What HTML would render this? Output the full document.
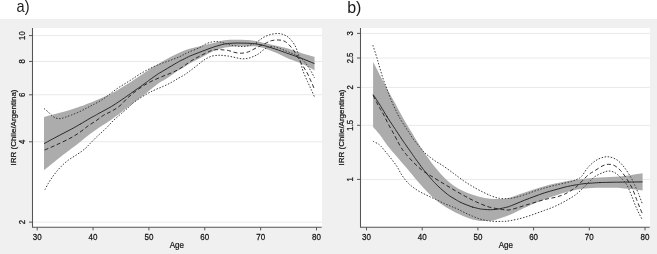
<!DOCTYPE html>
<html><head><meta charset="utf-8"><style>
html,body{margin:0;padding:0;background:#fff;overflow:hidden;}
svg{display:block;will-change:transform;}
.t{font-family:"Liberation Sans",sans-serif;font-size:8.4px;fill:#151515;stroke:#151515;stroke-width:0.22px;}
.lab{font-family:"Liberation Sans",sans-serif;font-size:16px;fill:#1a1a1a;}
</style></head><body>
<svg width="657" height="254" viewBox="0 0 657 254">
<rect x="0" y="0" width="657" height="254" fill="#fff"/>
<rect x="0" y="19" width="657" height="235" fill="#f0f0f0"/>
<rect x="32.5" y="28" width="289.5" height="199" fill="#fff"/>
<line x1="33" y1="222.13" x2="322" y2="222.13" stroke="#e9e9e9" stroke-width="1"/>
<line x1="33" y1="141.8" x2="322" y2="141.8" stroke="#e9e9e9" stroke-width="1"/>
<line x1="33" y1="94.8" x2="322" y2="94.8" stroke="#e9e9e9" stroke-width="1"/>
<line x1="33" y1="61.46" x2="322" y2="61.46" stroke="#e9e9e9" stroke-width="1"/>
<line x1="33" y1="35.6" x2="322" y2="35.6" stroke="#e9e9e9" stroke-width="1"/>
<path d="M44.00 117.00 C46.00 116.47 51.42 115.05 56.00 113.80 C60.58 112.55 67.50 110.70 71.50 109.50 C75.50 108.30 75.97 108.12 80.00 106.60 C84.03 105.08 90.45 102.60 95.70 100.40 C100.95 98.20 106.97 95.67 111.50 93.40 C116.03 91.13 119.70 88.70 122.90 86.80 C126.10 84.90 128.08 83.67 130.70 82.00 C133.32 80.33 135.38 78.97 138.60 76.80 C141.82 74.63 146.43 71.30 150.00 69.00 C153.57 66.70 156.67 64.95 160.00 63.00 C163.33 61.05 166.67 59.05 170.00 57.30 C173.33 55.55 177.00 53.85 180.00 52.50 C183.00 51.15 184.70 50.25 188.00 49.20 C191.30 48.15 195.87 47.15 199.80 46.20 C203.73 45.25 208.57 44.20 211.60 43.50 C214.63 42.80 215.77 42.53 218.00 42.00 C220.23 41.47 222.17 40.67 225.00 40.30 C227.83 39.93 231.22 39.83 235.00 39.80 C238.78 39.77 244.20 39.87 247.70 40.10 C251.20 40.33 253.25 40.72 256.00 41.20 C258.75 41.68 261.70 42.45 264.20 43.00 C266.70 43.55 268.63 43.95 271.00 44.50 C273.37 45.05 276.23 45.78 278.40 46.30 C280.57 46.82 282.07 47.12 284.00 47.60 C285.93 48.08 287.38 48.38 290.00 49.20 C292.62 50.02 296.87 51.57 299.70 52.50 C302.53 53.43 304.53 54.08 307.00 54.80 C309.47 55.52 313.25 56.47 314.50 56.80 L314.50 70.40 C313.25 69.72 309.47 67.57 307.00 66.30 C304.53 65.03 302.53 63.98 299.70 62.80 C296.87 61.62 292.62 60.23 290.00 59.20 C287.38 58.17 285.93 57.50 284.00 56.60 C282.07 55.70 280.57 54.77 278.40 53.80 C276.23 52.83 273.37 51.73 271.00 50.80 C268.63 49.87 266.62 48.92 264.20 48.20 C261.78 47.48 259.25 46.80 256.50 46.50 C253.75 46.20 251.28 46.42 247.70 46.40 C244.12 46.38 238.78 46.22 235.00 46.40 C231.22 46.58 227.83 46.98 225.00 47.50 C222.17 48.02 220.23 48.75 218.00 49.50 C215.77 50.25 214.63 50.55 211.60 52.00 C208.57 53.45 203.30 56.37 199.80 58.20 C196.30 60.03 193.18 61.53 190.60 63.00 C188.02 64.47 186.42 65.70 184.30 67.00 C182.18 68.30 180.28 69.25 177.90 70.80 C175.52 72.35 172.15 74.85 170.00 76.30 C167.85 77.75 167.02 78.25 165.00 79.50 C162.98 80.75 160.98 81.55 157.90 83.80 C154.82 86.05 151.03 89.47 146.50 93.00 C141.97 96.53 135.12 101.62 130.70 105.00 C126.28 108.38 123.20 110.88 120.00 113.30 C116.80 115.72 115.02 117.08 111.50 119.50 C107.98 121.92 102.48 125.38 98.90 127.80 C95.32 130.22 92.98 131.77 90.00 134.00 C87.02 136.23 84.08 138.77 81.00 141.20 C77.92 143.63 75.67 145.38 71.50 148.60 C67.33 151.82 60.58 156.88 56.00 160.50 C51.42 164.12 46.00 168.67 44.00 170.30 Z" fill="#acacac" stroke="none"/>
<path d="M44.00 143.65 C46.00 142.57 51.42 139.58 56.00 137.15 C60.58 134.72 67.50 131.19 71.50 129.05 C75.50 126.91 78.42 125.18 80.00 124.29 C81.58 123.40 79.33 124.70 81.00 123.70 C82.67 122.71 87.55 119.74 90.00 118.33 C92.45 116.91 94.22 116.04 95.70 115.21 C97.18 114.39 96.27 114.85 98.90 113.39 C101.53 111.93 107.98 108.53 111.50 106.45 C115.02 104.37 118.10 102.14 120.00 100.89 C121.90 99.64 121.12 100.16 122.90 98.93 C124.68 97.69 128.08 95.34 130.70 93.50 C133.32 91.66 135.97 89.78 138.60 87.90 C141.23 86.02 144.60 83.58 146.50 82.20 C148.40 80.81 148.10 80.95 150.00 79.59 C151.90 78.23 156.23 75.17 157.90 74.03 C159.57 72.89 158.82 73.46 160.00 72.76 C161.18 72.06 163.33 70.82 165.00 69.83 C166.67 68.83 167.85 68.08 170.00 66.80 C172.15 65.52 176.23 63.12 177.90 62.15 C179.57 61.19 178.93 61.58 180.00 61.03 C181.07 60.48 182.97 59.55 184.30 58.86 C185.63 58.18 186.95 57.44 188.00 56.93 C189.05 56.41 188.63 56.56 190.60 55.77 C192.57 54.98 196.30 53.54 199.80 52.20 C203.30 50.86 208.57 48.83 211.60 47.75 C214.63 46.67 215.77 46.39 218.00 45.75 C220.23 45.11 222.17 44.34 225.00 43.90 C227.83 43.46 231.22 43.21 235.00 43.10 C238.78 42.99 244.20 43.13 247.70 43.25 C251.20 43.37 254.53 43.74 256.00 43.85 C257.47 43.96 255.13 43.61 256.50 43.90 C257.87 44.20 261.78 44.98 264.20 45.60 C266.62 46.22 268.63 46.91 271.00 47.65 C273.37 48.39 276.23 49.31 278.40 50.05 C280.57 50.79 282.07 51.41 284.00 52.10 C285.93 52.79 287.38 53.28 290.00 54.20 C292.62 55.12 296.87 56.59 299.70 57.65 C302.53 58.71 304.53 59.56 307.00 60.55 C309.47 61.54 313.25 63.09 314.50 63.60" fill="none" stroke="#1a1a1a" stroke-width="0.9"/>
<path d="M44.70 150.00 C46.53 149.20 51.48 147.15 55.70 145.20 C59.92 143.25 65.95 140.47 70.00 138.30 C74.05 136.13 77.02 134.25 80.00 132.20 C82.98 130.15 85.28 127.87 87.90 126.00 C90.52 124.13 93.08 122.80 95.70 121.00 C98.32 119.20 100.97 116.82 103.60 115.20 C106.23 113.58 108.77 112.88 111.50 111.30 C114.23 109.72 117.25 108.00 120.00 105.70 C122.75 103.40 125.37 99.92 128.00 97.50 C130.63 95.08 133.30 93.12 135.80 91.20 C138.30 89.28 140.63 87.53 143.00 86.00 C145.37 84.47 147.50 83.28 150.00 82.00 C152.50 80.72 155.33 79.47 158.00 78.30 C160.67 77.13 163.33 76.08 166.00 75.00 C168.67 73.92 171.33 73.08 174.00 71.80 C176.67 70.52 179.17 69.10 182.00 67.30 C184.83 65.50 188.00 62.88 191.00 61.00 C194.00 59.12 196.57 57.75 200.00 56.00 C203.43 54.25 208.60 51.57 211.60 50.50 C214.60 49.43 216.27 49.72 218.00 49.60 C219.73 49.48 220.27 49.65 222.00 49.80 C223.73 49.95 226.23 50.05 228.40 50.50 C230.57 50.95 232.77 52.05 235.00 52.50 C237.23 52.95 239.55 53.32 241.80 53.20 C244.05 53.08 246.30 52.58 248.50 51.80 C250.70 51.02 252.38 49.80 255.00 48.50 C257.62 47.20 261.48 45.30 264.20 44.00 C266.92 42.70 268.93 41.37 271.30 40.70 C273.67 40.03 276.28 39.95 278.40 40.00 C280.52 40.05 282.28 40.25 284.00 41.00 C285.72 41.75 287.13 43.00 288.70 44.50 C290.27 46.00 291.95 48.00 293.40 50.00 C294.85 52.00 296.13 54.33 297.40 56.50 C298.67 58.67 299.87 61.08 301.00 63.00 C302.13 64.92 303.08 66.17 304.20 68.00 C305.32 69.83 306.67 72.02 307.70 74.00 C308.73 75.98 309.57 78.07 310.40 79.90 C311.23 81.73 312.02 83.40 312.70 85.00 C313.38 86.60 314.20 88.75 314.50 89.50" fill="none" stroke="#1a1a1a" stroke-width="0.9" stroke-dasharray="4 2.6"/>
<path d="M44.00 108.50 C44.67 109.05 46.67 110.60 48.00 111.80 C49.33 113.00 50.67 114.65 52.00 115.70 C53.33 116.75 54.58 117.62 56.00 118.10 C57.42 118.58 59.00 118.73 60.50 118.60 C62.00 118.47 63.17 117.90 65.00 117.30 C66.83 116.70 69.10 115.92 71.50 115.00 C73.90 114.08 76.82 112.98 79.40 111.80 C81.98 110.62 84.73 109.07 87.00 107.90 C89.27 106.73 90.72 106.02 93.00 104.80 C95.28 103.58 98.10 102.23 100.70 100.60 C103.30 98.97 105.97 96.93 108.60 95.00 C111.23 93.07 113.87 90.83 116.50 89.00 C119.13 87.17 121.82 85.62 124.40 84.00 C126.98 82.38 129.40 80.97 132.00 79.30 C134.60 77.63 137.00 75.80 140.00 74.00 C143.00 72.20 146.67 70.17 150.00 68.50 C153.33 66.83 156.67 65.33 160.00 64.00 C163.33 62.67 166.67 61.75 170.00 60.50 C173.33 59.25 177.00 57.83 180.00 56.50 C183.00 55.17 184.70 54.00 188.00 52.50 C191.30 51.00 196.85 48.92 199.80 47.50 C202.75 46.08 203.73 44.92 205.70 44.00 C207.67 43.08 209.77 42.40 211.60 42.00 C213.43 41.60 214.97 41.53 216.70 41.60 C218.43 41.67 220.17 41.97 222.00 42.40 C223.83 42.83 226.03 43.72 227.70 44.20 C229.37 44.68 230.28 44.97 232.00 45.30 C233.72 45.63 236.33 46.00 238.00 46.20 C239.67 46.40 240.67 46.50 242.00 46.50 C243.33 46.50 244.67 46.42 246.00 46.20 C247.33 45.98 248.43 45.73 250.00 45.20 C251.57 44.67 253.85 43.82 255.40 43.00 C256.95 42.18 257.83 41.30 259.30 40.30 C260.77 39.30 262.20 38.00 264.20 37.00 C266.20 36.00 268.93 34.88 271.30 34.30 C273.67 33.72 276.28 33.42 278.40 33.50 C280.52 33.58 282.40 34.22 284.00 34.80 C285.60 35.38 286.83 36.13 288.00 37.00 C289.17 37.87 289.88 38.67 291.00 40.00 C292.12 41.33 293.68 43.25 294.70 45.00 C295.72 46.75 296.32 48.42 297.10 50.50 C297.88 52.58 298.72 55.17 299.40 57.50 C300.08 59.83 300.60 62.25 301.20 64.50 C301.80 66.75 301.95 68.17 303.00 71.00 C304.05 73.83 306.13 78.42 307.50 81.50 C308.87 84.58 310.03 86.92 311.20 89.50 C312.37 92.08 313.95 95.75 314.50 97.00" fill="none" stroke="#3a3a3a" stroke-width="1" stroke-dasharray="1.5 1.6"/>
<path d="M44.90 189.70 C45.47 188.65 47.15 185.37 48.30 183.40 C49.45 181.43 50.53 179.73 51.80 177.90 C53.07 176.07 54.30 174.35 55.90 172.40 C57.50 170.45 59.33 168.23 61.40 166.20 C63.47 164.17 65.57 162.23 68.30 160.20 C71.03 158.17 74.93 155.98 77.80 154.00 C80.67 152.02 83.47 150.03 85.50 148.30 C87.53 146.57 87.93 145.70 90.00 143.60 C92.07 141.50 95.28 138.20 97.90 135.70 C100.52 133.20 103.08 131.17 105.70 128.60 C108.32 126.03 110.97 122.83 113.60 120.30 C116.23 117.77 118.87 115.68 121.50 113.40 C124.13 111.12 127.15 108.58 129.40 106.60 C131.65 104.62 131.97 103.68 135.00 101.50 C138.03 99.32 144.18 95.48 147.60 93.50 C151.02 91.52 152.88 90.78 155.50 89.60 C158.12 88.42 160.68 87.58 163.30 86.40 C165.92 85.22 168.75 83.82 171.20 82.50 C173.65 81.18 175.78 79.78 178.00 78.50 C180.22 77.22 182.53 76.05 184.50 74.80 C186.47 73.55 187.93 72.38 189.80 71.00 C191.67 69.62 193.73 68.03 195.70 66.50 C197.67 64.97 199.93 63.05 201.60 61.80 C203.27 60.55 204.03 59.93 205.70 59.00 C207.37 58.07 209.55 56.82 211.60 56.20 C213.65 55.58 216.27 55.43 218.00 55.30 C219.73 55.17 220.27 55.27 222.00 55.40 C223.73 55.53 226.22 55.75 228.40 56.10 C230.58 56.45 232.87 57.05 235.10 57.50 C237.33 57.95 239.57 58.68 241.80 58.80 C244.03 58.92 246.30 58.70 248.50 58.20 C250.70 57.70 253.25 56.58 255.00 55.80 C256.75 55.02 257.47 54.58 259.00 53.50 C260.53 52.42 262.63 50.38 264.20 49.30 C265.77 48.22 266.93 47.47 268.40 47.00 C269.87 46.53 271.07 46.25 273.00 46.50 C274.93 46.75 277.83 47.75 280.00 48.50 C282.17 49.25 284.17 50.25 286.00 51.00 C287.83 51.75 289.50 52.42 291.00 53.00 C292.50 53.58 293.60 53.83 295.00 54.50 C296.40 55.17 297.87 55.83 299.40 57.00 C300.93 58.17 302.82 60.00 304.20 61.50 C305.58 63.00 306.48 64.25 307.70 66.00 C308.92 67.75 310.37 70.00 311.50 72.00 C312.63 74.00 314.00 77.00 314.50 78.00" fill="none" stroke="#3a3a3a" stroke-width="1" stroke-dasharray="1.5 1.6"/>
<path d="M32.5 28 L32.5 227.3 L321.7 227.3" fill="none" stroke="#555555" stroke-width="1.05" stroke-linejoin="round"/>
<line x1="29" y1="222.13" x2="32.5" y2="222.13" stroke="#555555" stroke-width="1"/>
<text x="0" y="0" transform="translate(24.6 222.13) rotate(-90) scale(1 1.15)" text-anchor="middle" class="t" style="font-size:7.7px">2</text>
<line x1="29" y1="141.8" x2="32.5" y2="141.8" stroke="#555555" stroke-width="1"/>
<text x="0" y="0" transform="translate(24.6 141.8) rotate(-90) scale(1 1.15)" text-anchor="middle" class="t" style="font-size:7.7px">4</text>
<line x1="29" y1="94.8" x2="32.5" y2="94.8" stroke="#555555" stroke-width="1"/>
<text x="0" y="0" transform="translate(24.6 94.8) rotate(-90) scale(1 1.15)" text-anchor="middle" class="t" style="font-size:7.7px">6</text>
<line x1="29" y1="61.46" x2="32.5" y2="61.46" stroke="#555555" stroke-width="1"/>
<text x="0" y="0" transform="translate(24.6 61.46) rotate(-90) scale(1 1.15)" text-anchor="middle" class="t" style="font-size:7.7px">8</text>
<line x1="29" y1="35.6" x2="32.5" y2="35.6" stroke="#555555" stroke-width="1"/>
<text x="0" y="0" transform="translate(24.6 35.6) rotate(-90) scale(1 1.15)" text-anchor="middle" class="t" style="font-size:7.7px">10</text>
<line x1="37.2" y1="227.3" x2="37.2" y2="230.4" stroke="#555555" stroke-width="1"/>
<text x="0" y="0" transform="translate(37.2 240) scale(1 1.18)" text-anchor="middle" class="t" style="font-size:8px">30</text>
<line x1="93.06" y1="227.3" x2="93.06" y2="230.4" stroke="#555555" stroke-width="1"/>
<text x="0" y="0" transform="translate(93.06 240) scale(1 1.18)" text-anchor="middle" class="t" style="font-size:8px">40</text>
<line x1="148.92" y1="227.3" x2="148.92" y2="230.4" stroke="#555555" stroke-width="1"/>
<text x="0" y="0" transform="translate(148.92 240) scale(1 1.18)" text-anchor="middle" class="t" style="font-size:8px">50</text>
<line x1="204.78" y1="227.3" x2="204.78" y2="230.4" stroke="#555555" stroke-width="1"/>
<text x="0" y="0" transform="translate(204.78 240) scale(1 1.18)" text-anchor="middle" class="t" style="font-size:8px">60</text>
<line x1="260.64" y1="227.3" x2="260.64" y2="230.4" stroke="#555555" stroke-width="1"/>
<text x="0" y="0" transform="translate(260.64 240) scale(1 1.18)" text-anchor="middle" class="t" style="font-size:8px">70</text>
<line x1="316.5" y1="227.3" x2="316.5" y2="230.4" stroke="#555555" stroke-width="1"/>
<text x="0" y="0" transform="translate(316.5 240) scale(1 1.18)" text-anchor="middle" class="t" style="font-size:8px">80</text>
<text x="0" y="0" transform="translate(176.85 247.6) scale(1 1.08)" text-anchor="middle" class="t" style="font-size:8px">Age</text>
<text x="0" y="0" transform="translate(15.5 127.5) rotate(-90) scale(1 1)" text-anchor="middle" class="t" style="font-size:8px">IRR (Chile/Argentina)</text>
<rect x="360.5" y="28" width="289.5" height="199" fill="#fff"/>
<line x1="361" y1="179.4" x2="650" y2="179.4" stroke="#e9e9e9" stroke-width="1"/>
<line x1="361" y1="125.3" x2="650" y2="125.3" stroke="#e9e9e9" stroke-width="1"/>
<line x1="361" y1="87.4" x2="650" y2="87.4" stroke="#e9e9e9" stroke-width="1"/>
<line x1="361" y1="58" x2="650" y2="58" stroke="#e9e9e9" stroke-width="1"/>
<line x1="361" y1="33.4" x2="650" y2="33.4" stroke="#e9e9e9" stroke-width="1"/>
<path d="M373.10 62.10 C374.25 64.28 377.72 70.85 380.00 75.20 C382.28 79.55 384.53 83.97 386.80 88.20 C389.07 92.43 390.80 95.47 393.60 100.60 C396.40 105.73 400.57 113.68 403.60 119.00 C406.63 124.32 409.70 129.00 411.80 132.50 C413.90 136.00 414.38 137.03 416.20 140.00 C418.02 142.97 420.15 146.52 422.70 150.30 C425.25 154.08 428.55 158.85 431.50 162.70 C434.45 166.55 437.38 170.10 440.40 173.40 C443.42 176.70 446.33 179.80 449.60 182.50 C452.87 185.20 456.15 187.55 460.00 189.60 C463.85 191.65 469.12 193.52 472.70 194.80 C476.28 196.08 478.55 196.63 481.50 197.30 C484.45 197.97 487.45 198.52 490.40 198.80 C493.35 199.08 496.25 199.10 499.20 199.00 C502.15 198.90 503.85 199.28 508.10 198.20 C512.35 197.12 518.65 194.50 524.70 192.50 C530.75 190.50 537.68 188.02 544.40 186.20 C551.12 184.38 559.12 182.75 565.00 181.60 C570.88 180.45 573.97 180.00 579.70 179.30 C585.43 178.60 592.68 177.88 599.40 177.40 C606.12 176.92 614.17 176.90 620.00 176.40 C625.83 175.90 630.63 174.93 634.40 174.40 C638.17 173.87 641.23 173.40 642.60 173.20 L642.60 190.60 C641.23 190.43 636.83 189.90 634.40 189.60 C631.97 189.30 630.40 189.08 628.00 188.80 C625.60 188.52 622.67 188.08 620.00 187.90 C617.33 187.72 615.33 187.73 612.00 187.70 C608.67 187.67 604.50 187.58 600.00 187.70 C595.50 187.82 589.17 188.02 585.00 188.40 C580.83 188.78 578.33 189.32 575.00 190.00 C571.67 190.68 568.33 191.53 565.00 192.50 C561.67 193.47 558.43 194.62 555.00 195.80 C551.57 196.98 547.73 198.35 544.40 199.60 C541.07 200.85 538.28 201.93 535.00 203.30 C531.72 204.67 527.70 206.43 524.70 207.80 C521.70 209.17 519.45 210.33 517.00 211.50 C514.55 212.67 512.43 213.78 510.00 214.80 C507.57 215.82 504.90 216.73 502.40 217.60 C499.90 218.47 497.50 219.43 495.00 220.00 C492.50 220.57 489.90 220.85 487.40 221.00 C484.90 221.15 482.48 221.15 480.00 220.90 C477.52 220.65 475.00 220.18 472.50 219.50 C470.00 218.82 467.65 217.88 465.00 216.80 C462.35 215.72 459.77 214.58 456.60 213.00 C453.43 211.42 449.53 209.53 446.00 207.30 C442.47 205.07 438.93 202.62 435.40 199.60 C431.87 196.58 428.33 192.93 424.80 189.20 C421.27 185.47 417.45 180.97 414.20 177.20 C410.95 173.43 408.25 170.08 405.30 166.60 C402.35 163.12 399.55 159.90 396.50 156.30 C393.45 152.70 389.75 148.55 387.00 145.00 C384.25 141.45 382.32 138.00 380.00 135.00 C377.68 132.00 374.25 128.33 373.10 127.00 Z" fill="#acacac" stroke="none"/>
<path d="M373.10 94.55 C374.25 96.31 377.72 101.45 380.00 105.10 C382.28 108.75 385.63 114.51 386.80 116.46 C387.97 118.40 385.87 115.07 387.00 116.78 C388.13 118.49 392.02 124.34 393.60 126.73 C395.18 129.11 394.83 128.60 396.50 131.12 C398.17 133.63 402.13 139.62 403.60 141.81 C405.07 143.99 403.93 142.26 405.30 144.20 C406.67 146.14 410.32 151.30 411.80 153.42 C413.28 155.54 413.47 155.84 414.20 156.90 C414.93 157.95 414.78 157.79 416.20 159.73 C417.62 161.68 421.27 166.65 422.70 168.56 C424.13 170.48 423.33 169.45 424.80 171.23 C426.27 173.01 429.73 177.19 431.50 179.24 C433.27 181.28 433.92 181.98 435.40 183.49 C436.88 185.01 438.63 186.71 440.40 188.32 C442.17 189.92 444.47 191.86 446.00 193.12 C447.53 194.38 447.83 194.70 449.60 195.87 C451.37 197.04 454.87 199.11 456.60 200.14 C458.33 201.17 458.60 201.39 460.00 202.07 C461.40 202.75 462.92 203.38 465.00 204.22 C467.08 205.06 471.22 206.62 472.50 207.11 C473.78 207.60 471.45 206.87 472.70 207.17 C473.95 207.46 478.53 208.56 480.00 208.89 C481.47 209.21 480.27 208.98 481.50 209.11 C482.73 209.24 485.92 209.55 487.40 209.65 C488.88 209.75 489.13 209.74 490.40 209.70 C491.67 209.67 493.53 209.60 495.00 209.45 C496.47 209.30 497.97 209.03 499.20 208.82 C500.43 208.60 500.92 208.48 502.40 208.16 C503.88 207.83 506.83 207.18 508.10 206.85 C509.37 206.52 508.52 206.76 510.00 206.17 C511.48 205.59 514.55 204.33 517.00 203.32 C519.45 202.32 521.70 201.33 524.70 200.15 C527.70 198.97 531.72 197.46 535.00 196.25 C538.28 195.04 541.07 193.97 544.40 192.90 C547.73 191.83 551.57 190.79 555.00 189.82 C558.43 188.84 561.67 187.85 565.00 187.05 C568.33 186.25 572.55 185.48 575.00 185.02 C577.45 184.56 578.03 184.51 579.70 184.27 C581.37 184.04 581.72 183.88 585.00 183.59 C588.28 183.31 596.90 182.74 599.40 182.56 C601.90 182.39 597.90 182.59 600.00 182.54 C602.10 182.48 608.67 182.31 612.00 182.24 C615.33 182.18 617.33 182.18 620.00 182.15 C622.67 182.12 625.60 182.07 628.00 182.04 C630.40 182.02 631.97 182.02 634.40 182.00 C636.83 181.98 641.23 181.92 642.60 181.90" fill="none" stroke="#1a1a1a" stroke-width="0.9"/>
<path d="M373.10 95.50 C373.83 96.92 376.25 101.67 377.50 104.00 C378.75 106.33 379.55 107.67 380.60 109.50 C381.65 111.33 382.57 112.67 383.80 115.00 C385.03 117.33 386.42 120.50 388.00 123.50 C389.58 126.50 391.63 129.92 393.30 133.00 C394.97 136.08 396.68 139.57 398.00 142.00 C399.32 144.43 400.03 145.77 401.20 147.60 C402.37 149.43 402.90 150.48 405.00 153.00 C407.10 155.52 410.85 159.75 413.80 162.70 C416.75 165.65 419.68 168.40 422.70 170.70 C425.72 173.00 428.32 174.28 431.90 176.50 C435.48 178.72 440.35 181.67 444.20 184.00 C448.05 186.33 451.43 188.42 455.00 190.50 C458.57 192.58 462.07 194.60 465.60 196.50 C469.13 198.40 472.57 200.23 476.20 201.90 C479.83 203.57 484.27 205.43 487.40 206.50 C490.53 207.57 492.50 207.80 495.00 208.30 C497.50 208.80 499.90 209.25 502.40 209.50 C504.90 209.75 506.28 210.47 510.00 209.80 C513.72 209.13 518.97 207.20 524.70 205.50 C530.43 203.80 539.35 200.95 544.40 199.60 C549.45 198.25 551.60 198.32 555.00 197.40 C558.40 196.48 561.53 195.63 564.80 194.10 C568.07 192.57 571.98 190.10 574.60 188.20 C577.22 186.30 578.20 184.93 580.50 182.70 C582.80 180.47 585.98 176.82 588.40 174.80 C590.82 172.78 592.58 172.12 595.00 170.60 C597.42 169.08 600.60 166.75 602.90 165.70 C605.20 164.65 606.83 164.30 608.80 164.30 C610.77 164.30 612.73 164.65 614.70 165.70 C616.67 166.75 618.63 168.47 620.60 170.60 C622.57 172.73 624.55 175.52 626.50 178.50 C628.45 181.48 630.62 185.00 632.30 188.50 C633.98 192.00 635.30 196.18 636.60 199.50 C637.90 202.82 639.07 205.88 640.10 208.40 C641.13 210.92 642.35 213.57 642.80 214.60" fill="none" stroke="#1a1a1a" stroke-width="0.9" stroke-dasharray="4 2.6"/>
<path d="M372.90 45.20 C373.55 47.25 375.77 54.10 376.80 57.50 C377.83 60.90 378.32 62.92 379.10 65.60 C379.88 68.28 380.72 71.07 381.50 73.60 C382.28 76.13 383.02 78.57 383.80 80.80 C384.58 83.03 385.50 85.13 386.20 87.00 C386.90 88.87 387.28 90.08 388.00 92.00 C388.72 93.92 389.58 96.25 390.50 98.50 C391.42 100.75 392.52 103.33 393.50 105.50 C394.48 107.67 395.52 109.67 396.40 111.50 C397.28 113.33 397.60 114.37 398.80 116.50 C400.00 118.63 401.98 121.75 403.60 124.30 C405.22 126.85 406.92 129.37 408.50 131.80 C410.08 134.23 411.28 136.45 413.10 138.90 C414.92 141.35 417.55 144.27 419.40 146.50 C421.25 148.73 422.62 150.67 424.20 152.30 C425.78 153.93 427.07 154.85 428.90 156.30 C430.73 157.75 433.10 159.58 435.20 161.00 C437.30 162.42 439.13 163.25 441.50 164.80 C443.87 166.35 447.03 168.60 449.40 170.30 C451.77 172.00 453.33 173.25 455.70 175.00 C458.07 176.75 460.97 179.00 463.60 180.80 C466.23 182.60 468.77 184.17 471.50 185.80 C474.23 187.43 476.85 188.98 480.00 190.60 C483.15 192.22 487.20 194.22 490.40 195.50 C493.60 196.78 496.25 197.80 499.20 198.30 C502.15 198.80 505.47 198.62 508.10 198.50 C510.73 198.38 512.23 198.23 515.00 197.60 C517.77 196.97 521.37 195.80 524.70 194.70 C528.03 193.60 531.72 192.12 535.00 191.00 C538.28 189.88 541.07 188.95 544.40 188.00 C547.73 187.05 551.57 186.13 555.00 185.30 C558.43 184.47 562.17 183.68 565.00 183.00 C567.83 182.32 570.00 181.82 572.00 181.20 C574.00 180.58 575.42 180.08 577.00 179.30 C578.58 178.52 579.68 178.47 581.50 176.50 C583.32 174.53 585.53 170.15 587.90 167.50 C590.27 164.85 593.08 162.32 595.70 160.60 C598.32 158.88 601.23 157.80 603.60 157.20 C605.97 156.60 607.80 156.63 609.90 157.00 C612.00 157.37 614.52 158.48 616.20 159.40 C617.88 160.32 618.62 161.13 620.00 162.50 C621.38 163.87 622.77 165.27 624.50 167.60 C626.23 169.93 628.75 173.70 630.40 176.50 C632.05 179.30 633.08 181.62 634.40 184.40 C635.72 187.18 636.97 189.93 638.30 193.20 C639.63 196.47 641.72 202.20 642.40 204.00" fill="none" stroke="#3a3a3a" stroke-width="1" stroke-dasharray="1.5 1.6"/>
<path d="M372.90 141.20 C373.68 141.60 376.30 142.80 377.60 143.60 C378.90 144.40 378.87 144.02 380.70 146.00 C382.53 147.98 385.97 152.20 388.60 155.50 C391.23 158.80 394.27 162.50 396.50 165.80 C398.73 169.10 399.95 172.32 402.00 175.30 C404.05 178.28 406.18 181.17 408.80 183.70 C411.42 186.23 414.75 188.60 417.70 190.50 C420.65 192.40 423.55 193.63 426.50 195.10 C429.45 196.57 432.45 197.90 435.40 199.30 C438.35 200.70 441.55 202.32 444.20 203.50 C446.85 204.68 449.08 205.48 451.30 206.40 C453.52 207.32 455.22 207.93 457.50 209.00 C459.78 210.07 462.50 211.60 465.00 212.80 C467.50 214.00 470.00 215.17 472.50 216.20 C475.00 217.23 477.52 218.25 480.00 219.00 C482.48 219.75 484.92 220.30 487.40 220.70 C489.88 221.10 492.40 221.28 494.90 221.40 C497.40 221.52 499.88 221.52 502.40 221.40 C504.92 221.28 506.28 221.38 510.00 220.70 C513.72 220.02 518.97 219.02 524.70 217.30 C530.43 215.58 539.35 212.23 544.40 210.40 C549.45 208.57 551.60 207.82 555.00 206.30 C558.40 204.78 561.53 203.10 564.80 201.30 C568.07 199.50 571.65 197.62 574.60 195.50 C577.55 193.38 579.87 191.07 582.50 188.60 C585.13 186.13 588.32 182.72 590.40 180.70 C592.48 178.68 592.92 177.85 595.00 176.50 C597.08 175.15 600.60 173.52 602.90 172.60 C605.20 171.68 606.83 171.00 608.80 171.00 C610.77 171.00 612.73 171.52 614.70 172.60 C616.67 173.68 618.63 175.53 620.60 177.50 C622.57 179.47 624.72 181.48 626.50 184.40 C628.28 187.32 629.62 191.00 631.30 195.00 C632.98 199.00 634.83 204.40 636.60 208.40 C638.37 212.40 641.02 217.23 641.90 219.00" fill="none" stroke="#3a3a3a" stroke-width="1" stroke-dasharray="1.5 1.6"/>
<path d="M360.5 28 L360.5 227.3 L649.7 227.3" fill="none" stroke="#555555" stroke-width="1.05" stroke-linejoin="round"/>
<line x1="357" y1="179.4" x2="360.5" y2="179.4" stroke="#555555" stroke-width="1"/>
<text x="0" y="0" transform="translate(352.6 179.4) rotate(-90) scale(1 1.15)" text-anchor="middle" class="t" style="font-size:7.7px">1</text>
<line x1="357" y1="125.3" x2="360.5" y2="125.3" stroke="#555555" stroke-width="1"/>
<text x="0" y="0" transform="translate(352.6 125.3) rotate(-90) scale(1 1.15)" text-anchor="middle" class="t" style="font-size:7.7px">1.5</text>
<line x1="357" y1="87.4" x2="360.5" y2="87.4" stroke="#555555" stroke-width="1"/>
<text x="0" y="0" transform="translate(352.6 87.4) rotate(-90) scale(1 1.15)" text-anchor="middle" class="t" style="font-size:7.7px">2</text>
<line x1="357" y1="58" x2="360.5" y2="58" stroke="#555555" stroke-width="1"/>
<text x="0" y="0" transform="translate(352.6 58) rotate(-90) scale(1 1.15)" text-anchor="middle" class="t" style="font-size:7.7px">2.5</text>
<line x1="357" y1="33.4" x2="360.5" y2="33.4" stroke="#555555" stroke-width="1"/>
<text x="0" y="0" transform="translate(352.6 33.4) rotate(-90) scale(1 1.15)" text-anchor="middle" class="t" style="font-size:7.7px">3</text>
<line x1="366.5" y1="227.3" x2="366.5" y2="230.4" stroke="#555555" stroke-width="1"/>
<text x="0" y="0" transform="translate(366.5 240) scale(1 1.18)" text-anchor="middle" class="t" style="font-size:8px">30</text>
<line x1="422.2" y1="227.3" x2="422.2" y2="230.4" stroke="#555555" stroke-width="1"/>
<text x="0" y="0" transform="translate(422.2 240) scale(1 1.18)" text-anchor="middle" class="t" style="font-size:8px">40</text>
<line x1="477.9" y1="227.3" x2="477.9" y2="230.4" stroke="#555555" stroke-width="1"/>
<text x="0" y="0" transform="translate(477.9 240) scale(1 1.18)" text-anchor="middle" class="t" style="font-size:8px">50</text>
<line x1="533.6" y1="227.3" x2="533.6" y2="230.4" stroke="#555555" stroke-width="1"/>
<text x="0" y="0" transform="translate(533.6 240) scale(1 1.18)" text-anchor="middle" class="t" style="font-size:8px">60</text>
<line x1="589.3" y1="227.3" x2="589.3" y2="230.4" stroke="#555555" stroke-width="1"/>
<text x="0" y="0" transform="translate(589.3 240) scale(1 1.18)" text-anchor="middle" class="t" style="font-size:8px">70</text>
<line x1="645" y1="227.3" x2="645" y2="230.4" stroke="#555555" stroke-width="1"/>
<text x="0" y="0" transform="translate(645 240) scale(1 1.18)" text-anchor="middle" class="t" style="font-size:8px">80</text>
<text x="0" y="0" transform="translate(505.75 247.6) scale(1 1.08)" text-anchor="middle" class="t" style="font-size:8px">Age</text>
<text x="0" y="0" transform="translate(344 127.5) rotate(-90) scale(1 1)" text-anchor="middle" class="t" style="font-size:8px">IRR (Chile/Argentina)</text>
<text x="0" y="0" transform="translate(16.6 11.9) scale(0.91 1)" class="lab">a)</text>
<text x="347.2" y="13.2" class="lab">b)</text>
</svg>
</body></html>
